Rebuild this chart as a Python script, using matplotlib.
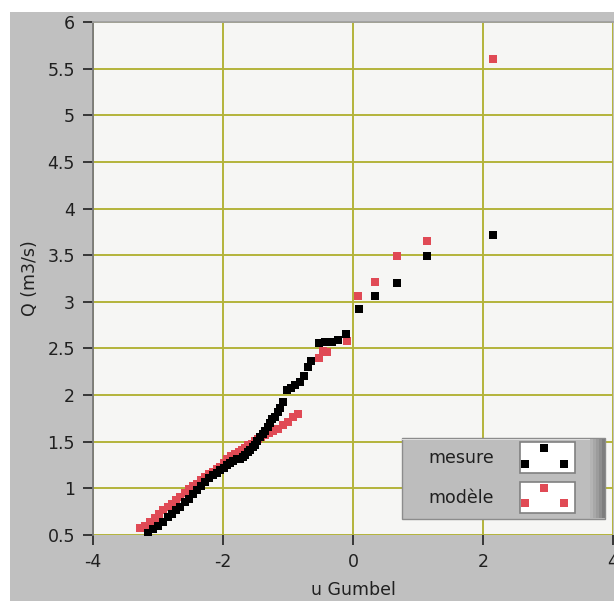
import matplotlib
matplotlib.use("Agg")
import matplotlib.pyplot as plt
from matplotlib.patches import Rectangle
from matplotlib.lines import Line2D
from matplotlib.legend_handler import HandlerBase

# ---- data ----
mesure_u = [-3.15, -3.07, -3.00, -2.92, -2.85, -2.78, -2.72, -2.66, -2.59, -2.53,
            -2.46, -2.40, -2.34, -2.28, -2.22, -2.16, -2.10, -2.05, -1.99, -1.94,
            -1.89, -1.84, -1.79, -1.74, -1.70, -1.66, -1.62, -1.58, -1.54, -1.51,
            -1.47, -1.43, -1.39, -1.35, -1.31, -1.28, -1.24, -1.20, -1.16, -1.12,
            -1.07, -1.02, -0.96, -0.89, -0.82, -0.76, -0.69, -0.65, -0.53, -0.43,
            -0.33, -0.23, -0.11, 0.09, 0.34, 0.67, 1.14, 2.16]
mesure_q = [0.52, 0.56, 0.60, 0.64, 0.69, 0.73, 0.77, 0.80, 0.85, 0.89,
            0.94, 0.98, 1.02, 1.07, 1.11, 1.14, 1.17, 1.20, 1.22, 1.25,
            1.27, 1.29, 1.31, 1.32, 1.34, 1.36, 1.39, 1.41, 1.44, 1.46,
            1.51, 1.55, 1.58, 1.61, 1.66, 1.70, 1.74, 1.77, 1.82, 1.86,
            1.93, 2.05, 2.08, 2.11, 2.14, 2.20, 2.30, 2.37, 2.56, 2.57,
            2.57, 2.59, 2.65, 2.92, 3.06, 3.20, 3.49, 3.72]

modele_u = [-3.28, -3.20, -3.12, -3.05, -2.98, -2.92, -2.85, -2.78, -2.72, -2.66,
            -2.59, -2.53, -2.46, -2.40, -2.34, -2.28, -2.22, -2.16, -2.10, -2.05,
            -1.99, -1.94, -1.87, -1.82, -1.76, -1.71, -1.66, -1.61, -1.56, -1.51,
            -1.46, -1.41, -1.36, -1.30, -1.23, -1.15, -1.07, -1.00, -0.92, -0.84,
            -0.53, -0.46, -0.40, -0.10, 0.08, 0.34, 0.67, 1.14, 2.16]
modele_q = [0.57, 0.60, 0.64, 0.68, 0.73, 0.77, 0.80, 0.83, 0.87, 0.91,
            0.95, 0.99, 1.02, 1.05, 1.09, 1.12, 1.15, 1.18, 1.21, 1.23,
            1.27, 1.31, 1.35, 1.37, 1.39, 1.41, 1.43, 1.46, 1.48, 1.51,
            1.53, 1.55, 1.57, 1.59, 1.61, 1.64, 1.68, 1.71, 1.77, 1.80,
            2.40, 2.47, 2.46, 2.58, 3.06, 3.21, 3.49, 3.65, 5.60]

x_ticks = [-4, -2, 0, 2, 4]
y_ticks = [0.5, 1, 1.5, 2, 2.5, 3, 3.5, 4, 4.5, 5, 5.5, 6]
y_ticklabels = ["0.5", "1", "1.5", "2", "2.5", "3", "3.5", "4", "4.5", "5", "5.5", "6"]
series_names = ["mesure", "modèle"]

# ---- styling ----
W, H = 614, 601
GRAY = "#c0c0c0"
RED = "#e04a55"
GRID = "#b4b43a"
FS = 12.5

plt.rcParams["font.family"] = ["DejaVu Sans"]
plt.rcParams["axes.unicode_minus"] = False
fig = plt.figure(figsize=(W / 100, H / 100), dpi=100, facecolor="white")
# gray panel (white strip on top and left)
fig.patches.append(Rectangle((10 / W, 0), 1 - 10 / W, 1 - 12 / H,
                             transform=fig.transFigure, facecolor=GRAY,
                             edgecolor="none", zorder=-10))

ax = fig.add_axes([93 / W, (H - 535) / H, 520 / W, 513 / H])
ax.set_zorder(1)
ax.set_facecolor("#f6f6f4")
ax.set_xlim(-4, 4)
ax.set_ylim(0.5, 6)
ax.set_xticks(x_ticks)
ax.set_yticks(y_ticks)
ax.set_yticklabels(y_ticklabels)
ax.grid(True, color=GRID, linewidth=1.4, zorder=1)
ax.set_axisbelow(True)
for s in ["right", "bottom"]:
    ax.spines[s].set_visible(False)
ax.spines["left"].set_color("#7a7a7a")
ax.spines["left"].set_linewidth(1.3)
ax.spines["top"].set_color("#a0a0a0")
ax.spines["top"].set_linewidth(1.3)
ax.tick_params(axis="y", length=7, width=1.2, pad=6, labelsize=FS, colors="#202020")
ax.tick_params(axis="x", length=7, width=1.2, pad=6, labelsize=FS, colors="#202020")
ax.set_xlabel("u Gumbel", fontsize=FS, labelpad=7, color="#202020")
ax.set_ylabel("Q (m3/s)", fontsize=FS, labelpad=6, color="#202020")

ms = 5.8
ax.plot(modele_u, modele_q, linestyle="none", marker="s", markersize=ms,
        color=RED, markeredgewidth=0, zorder=3, label=series_names[1], clip_on=True)
ax.plot(mesure_u, mesure_q, linestyle="none", marker="s", markersize=ms,
        color="black", markeredgewidth=0, zorder=4, label=series_names[0], clip_on=True)


# ---- legend (LabVIEW-like plot legend) ----
def ax_x(px):
    return (px - 93) / 520


def ax_y(py):
    return (535 - py) / 513


box = Rectangle((ax_x(402), ax_y(519)), ax_x(605) - ax_x(402), ax_y(438) - ax_y(519),
                transform=ax.transAxes, facecolor="#bdbdbd", edgecolor="#8c8c8c",
                linewidth=1, zorder=6)
ax.add_patch(box)
# bevel on the right side
shades = ["#b4b4b4", "#a8a8a8", "#9c9c9c", "#8e8e8e", "#7e7e7e"]
for i, c in enumerate(shades):
    x0 = 590 + i * 3
    ax.add_patch(Rectangle((ax_x(x0), ax_y(518)), 3 / 520, ax_y(439) - ax_y(518),
                           transform=ax.transAxes, facecolor=c, edgecolor="none",
                           zorder=6.1))
ax.add_patch(Rectangle((ax_x(402), ax_y(440)), ax_x(590) - ax_x(402), 1.5 / 513,
                       transform=ax.transAxes, facecolor="#dcdcdc", edgecolor="none",
                       zorder=6.1))


class BoxHandler(HandlerBase):
    def create_artists(self, legend, orig_handle, xdescent, ydescent, width,
                       height, fontsize, trans):
        rect = Rectangle((-xdescent, -ydescent), width, height, facecolor="white",
                         edgecolor="#808080", linewidth=1.2, transform=trans)
        xs = [-xdescent + width * f for f in (0.1, 0.45, 0.8)]
        ys = [-ydescent + height * f for f in (0.3, 0.8, 0.3)]
        ln = Line2D(xs, ys, linestyle="none", marker="s", markersize=ms,
                    markeredgewidth=0, color=orig_handle.get_color(), transform=trans)
        return [rect, ln]


handles, labels = ax.get_legend_handles_labels()
order = [1, 0]
leg = ax.legend([handles[i] for i in order], [labels[i] for i in order],
                handler_map={Line2D: BoxHandler()},
                loc="upper left", bbox_to_anchor=(ax_x(428), ax_y(442)),
                bbox_transform=ax.transAxes, frameon=False, markerfirst=False,
                fontsize=FS, handlelength=55 / 17.4, handleheight=2.37,
                handletextpad=1.5, labelspacing=0.5, borderpad=0, borderaxespad=0)
leg.set_zorder(7)
for t in leg.get_texts():
    t.set_color("#202020")

fig.savefig("out.png", dpi=100, facecolor="white")
